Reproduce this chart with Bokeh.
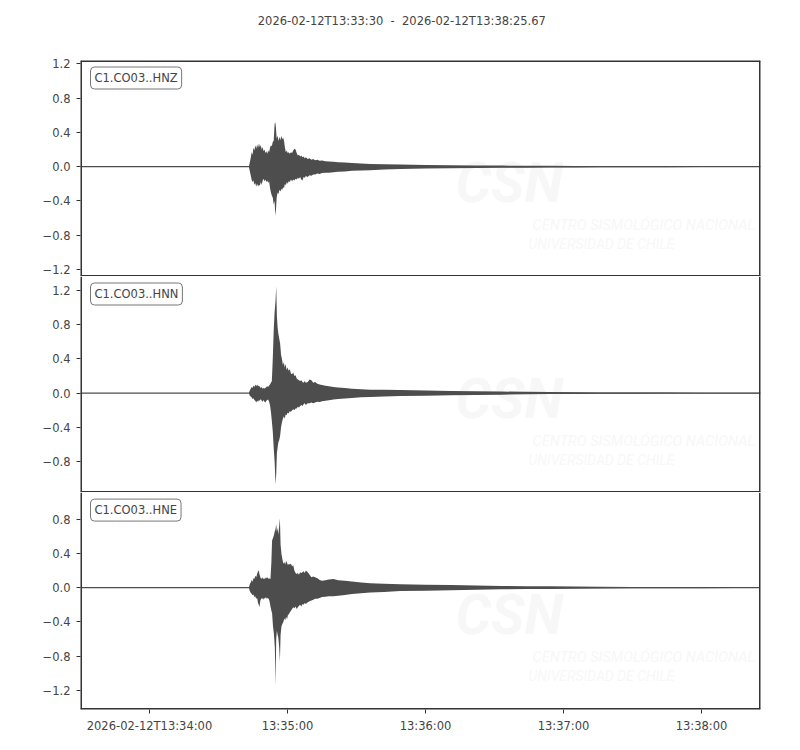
#Three-component seismogram (CSN station CO03)

from bokeh.plotting import figure
from bokeh.models import Range1d, FixedTicker, Label, Span
from bokeh.layouts import column
from bokeh.core.properties import value
from bokeh.embed import file_html
from bokeh.resources import INLINE

##### DATA #####
START_LABEL = "2026-02-12T13:33:30"
END_LABEL = "2026-02-12T13:38:25.67"
DURATION = 295.67  #seconds after start

CHANNELS = ["C1.CO03..HNZ", "C1.CO03..HNN", "C1.CO03..HNE"]

#envelope of each trace: time (s after start), upper and lower amplitude
HNZ_T = [0.0, 73.2, 73.6, 74.0, 74.4, 74.8, 75.2, 75.6, 76.0, 76.4, 76.8, 77.2, 77.6, 78.0, 78.4,
         78.8, 79.2, 79.6, 80.0, 80.4, 80.8, 81.2, 81.6, 82.0, 82.4, 82.8, 83.2, 83.6, 84.0,
         84.4, 84.7, 85.0, 85.3, 85.7, 86.1, 86.5, 86.9, 87.3, 87.7, 88.1, 88.5, 88.9, 89.3,
         89.7, 90.1, 90.5, 91.0, 91.5, 92.0, 92.5, 93.0, 93.5, 94.0, 94.5, 95.0, 95.5, 96.0,
         96.5, 97.0, 97.5, 98.0, 98.8, 99.6, 100.4, 101.2, 102.0, 103.0, 104.0, 105.0, 106.5,
         108.0, 110.0, 112.0, 115.0, 118.0, 122.0, 126.0, 132.0, 139.0, 150.0, 161.0, 172.0,
         183.0, 194.0, 204.0, 215.0, 226.0, 240.0, 255.0, 270.0, 285.0, 295.67]
HNZ_UP = [0.0, 0.0, 0.05, 0.10, 0.17, 0.14, 0.22, 0.19, 0.25, 0.21, 0.26, 0.22, 0.27, 0.23, 0.25,
          0.20, 0.23, 0.18, 0.20, 0.16, 0.18, 0.15, 0.19, 0.17, 0.22, 0.25, 0.24, 0.29, 0.30,
          0.50, 0.52, 0.45, 0.33, 0.36, 0.30, 0.35, 0.31, 0.36, 0.32, 0.34, 0.30, 0.22, 0.17,
          0.19, 0.16, 0.17, 0.15, 0.17, 0.16, 0.19, 0.21, 0.20, 0.16, 0.13, 0.14, 0.12, 0.13,
          0.11, 0.12, 0.10, 0.11, 0.09, 0.10, 0.08, 0.09, 0.075, 0.08, 0.07, 0.072, 0.065,
          0.062, 0.058, 0.052, 0.048, 0.044, 0.037, 0.032, 0.028, 0.025, 0.02, 0.018, 0.015,
          0.013, 0.011, 0.01, 0.008, 0.007, 0.006, 0.005, 0.004, 0.0035, 0.003]
HNZ_LO = [0.0, 0.0, -0.05, -0.10, -0.15, -0.18, -0.16, -0.21, -0.19, -0.23, -0.20, -0.23, -0.21, -0.22, -0.18,
          -0.21, -0.16, -0.14, -0.17, -0.15, -0.18, -0.16, -0.19, -0.17, -0.25, -0.30, -0.34, -0.36, -0.44,
          -0.40, -0.573, -0.50, -0.36, -0.30, -0.32, -0.27, -0.29, -0.26, -0.27, -0.24, -0.25, -0.20, -0.22,
          -0.18, -0.20, -0.17, -0.18, -0.15, -0.17, -0.15, -0.16, -0.14, -0.15, -0.13, -0.14, -0.12, -0.15,
          -0.16, -0.12, -0.13, -0.11, -0.12, -0.10, -0.105, -0.09, -0.09, -0.08, -0.085, -0.075, -0.07,
          -0.07, -0.065, -0.06, -0.055, -0.048, -0.043, -0.04, -0.032, -0.027, -0.022, -0.018, -0.015,
          -0.013, -0.011, -0.01, -0.008, -0.007, -0.006, -0.005, -0.004, -0.0035, -0.003]

HNN_T = [0.0, 73.2, 73.6, 74.0, 74.4, 74.8, 75.2, 75.6, 76.0, 76.4, 76.8, 77.2, 77.6, 78.0, 78.4,
         78.8, 79.2, 79.6, 80.0, 80.4, 80.8, 81.2, 81.6, 82.0, 82.4, 82.8, 83.2, 83.6, 84.0,
         84.4, 84.8, 85.1, 85.4, 85.7, 86.0, 86.4, 86.8, 87.2, 87.6, 88.0, 88.4, 88.8, 89.2,
         89.6, 90.0, 90.5, 91.0, 91.5, 92.0, 92.5, 93.0, 93.5, 94.0, 94.5, 95.0, 95.5, 96.0,
         96.5, 97.0, 97.5, 98.0, 98.8, 99.6, 100.4, 101.2, 102.0, 103.0, 104.0, 105.0, 106.5,
         108.0, 110.0, 112.0, 115.0, 118.0, 122.0, 126.0, 132.0, 139.0, 150.0, 161.0, 172.0,
         183.0, 194.0, 204.0, 215.0, 226.0, 240.0, 255.0, 270.0, 285.0, 295.67]
HNN_UP = [0.0, 0.0, 0.03, 0.05, 0.07, 0.06, 0.09, 0.07, 0.10, 0.08, 0.10, 0.08, 0.09, 0.07, 0.06,
          0.07, 0.05, 0.06, 0.055, 0.06, 0.07, 0.08, 0.07, 0.09, 0.10, 0.12, 0.14, 0.40, 0.73,
          0.95, 1.08, 1.25, 0.90, 0.77, 0.70, 0.64, 0.58, 0.45, 0.40, 0.33, 0.36, 0.30, 0.34,
          0.27, 0.30, 0.26, 0.28, 0.23, 0.22, 0.24, 0.20, 0.21, 0.17, 0.16, 0.15, 0.14, 0.15,
          0.13, 0.12, 0.14, 0.12, 0.13, 0.16, 0.15, 0.12, 0.13, 0.11, 0.10, 0.095, 0.085,
          0.08, 0.07, 0.066, 0.06, 0.052, 0.045, 0.04, 0.038, 0.035, 0.03, 0.025, 0.021,
          0.018, 0.015, 0.012, 0.01, 0.008, 0.007, 0.006, 0.005, 0.0045, 0.004]
HNN_LO = [0.0, 0.0, -0.03, -0.04, -0.05, -0.07, -0.06, -0.08, -0.09, -0.11, -0.09, -0.10, -0.08, -0.09, -0.07,
          -0.09, -0.10, -0.08, -0.10, -0.11, -0.09, -0.08, -0.075, -0.10, -0.14, -0.22, -0.33, -0.45, -0.64,
          -0.80, -1.07, -0.95, -0.70, -0.64, -0.58, -0.55, -0.50, -0.40, -0.34, -0.30, -0.27, -0.30, -0.25,
          -0.26, -0.23, -0.24, -0.21, -0.22, -0.20, -0.19, -0.20, -0.18, -0.18, -0.16, -0.17, -0.15, -0.14,
          -0.15, -0.13, -0.12, -0.14, -0.12, -0.12, -0.11, -0.12, -0.11, -0.10, -0.105, -0.095, -0.09,
          -0.085, -0.075, -0.07, -0.063, -0.057, -0.05, -0.045, -0.04, -0.035, -0.03, -0.025, -0.021,
          -0.018, -0.015, -0.012, -0.01, -0.008, -0.007, -0.006, -0.005, -0.0045, -0.004]

HNE_T = [0.0, 73.2, 73.6, 74.0, 74.4, 74.8, 75.2, 75.6, 76.0, 76.4, 76.8, 77.2, 77.5, 77.8, 78.2,
         78.6, 79.0, 79.4, 79.8, 80.2, 80.6, 81.0, 81.4, 81.8, 82.2, 82.6, 83.0, 83.3, 83.7,
         84.1, 84.5, 84.8, 85.1, 85.4, 85.7, 86.0, 86.4, 86.7, 87.0, 87.4, 87.8, 88.2, 88.6,
         89.0, 89.4, 89.8, 90.2, 90.6, 91.0, 91.5, 92.0, 92.5, 93.0, 93.5, 94.0, 94.5, 95.0,
         95.5, 96.0, 96.5, 97.0, 97.5, 98.0, 98.8, 99.6, 100.4, 101.2, 102.0, 103.0, 104.0,
         105.0, 106.5, 108.0, 110.0, 112.0, 115.0, 118.0, 122.0, 126.0, 132.0, 139.0, 150.0,
         161.0, 172.0, 183.0, 194.0, 204.0, 215.0, 226.0, 240.0, 255.0, 270.0, 285.0, 295.0]
HNE_UP = [0.0, 0.0, 0.04, 0.06, 0.09, 0.07, 0.11, 0.10, 0.14, 0.12, 0.16, 0.19, 0.20, 0.16, 0.12,
          0.10, 0.12, 0.10, 0.11, 0.10, 0.12, 0.11, 0.12, 0.10, 0.11, 0.10, 0.30, 0.55, 0.58,
          0.61, 0.66, 0.68, 0.74, 0.65, 0.70, 0.62, 0.72, 0.81, 0.50, 0.39, 0.33, 0.28, 0.30,
          0.27, 0.31, 0.29, 0.26, 0.28, 0.27, 0.28, 0.25, 0.26, 0.20, 0.17, 0.16, 0.17, 0.15,
          0.18, 0.17, 0.18, 0.19, 0.17, 0.20, 0.18, 0.15, 0.12, 0.13, 0.12, 0.11, 0.09,
          0.08, 0.085, 0.095, 0.10, 0.085, 0.08, 0.072, 0.06, 0.05, 0.045, 0.04, 0.035,
          0.03, 0.025, 0.02, 0.017, 0.015, 0.012, 0.01, 0.008, 0.007, 0.006, 0.0055, 0.005]
HNE_LO = [0.0, 0.0, -0.04, -0.06, -0.07, -0.09, -0.08, -0.11, -0.10, -0.13, -0.12, -0.18, -0.20, -0.23, -0.15,
          -0.13, -0.12, -0.14, -0.12, -0.13, -0.11, -0.13, -0.12, -0.13, -0.16, -0.22, -0.27, -0.30, -0.45,
          -0.54, -0.70, -1.14, -0.60, -0.50, -0.55, -0.58, -0.70, -0.865, -0.55, -0.45, -0.42, -0.40, -0.36,
          -0.38, -0.34, -0.37, -0.32, -0.31, -0.29, -0.27, -0.25, -0.23, -0.24, -0.22, -0.25, -0.23, -0.21,
          -0.20, -0.22, -0.19, -0.20, -0.18, -0.19, -0.17, -0.16, -0.15, -0.14, -0.13, -0.13, -0.12,
          -0.11, -0.105, -0.10, -0.10, -0.095, -0.085, -0.074, -0.065, -0.058, -0.05, -0.04, -0.035,
          -0.03, -0.025, -0.02, -0.017, -0.015, -0.012, -0.01, -0.008, -0.007, -0.006, -0.0055, -0.005]

#axes
X_TICKS = [30, 90, 150, 210, 270]
X_TICK_LABELS = ["2026-02-12T13:34:00", "13:35:00", "13:36:00", "13:37:00", "13:38:00"]
HNZ_YTICKS = [-1.2, -0.8, -0.4, 0.0, 0.4, 0.8, 1.2]
HNN_YTICKS = [-0.8, -0.4, 0.0, 0.4, 0.8, 1.2]
HNE_YTICKS = [-1.2, -0.8, -0.4, 0.0, 0.4, 0.8]
HNZ_YLIM = (-1.282, 1.24)
HNN_YLIM = (-1.163, 1.364)
HNE_YLIM = (-1.422, 1.11)

#### STYLE ####
TRACE = "#4d4d4d"
INK = "#444444"
EDGE = "#333333"
FONT = "DejaVu Sans"
FSIZE = "11.5px"
WATERMARK = "#f7f7f7"

PAGE_W = 800
HEAD_H = 30
FRAME_W = 680
FRAME_H = 216
LEFT = 80

x_range = Range1d(0, DURATION)


def tick_text(v):
    return ("%.1f" % v).replace("-", "\u2212")


def edge(p, loc, dim):
    #spans are clipped at the frame, so a wide line leaves a crisp edge inside
    p.add_layout(Span(location=loc, dimension=dim, line_color=EDGE, line_width=3))


def make_panel(name, t, up, lo, yticks, ylim, top_border, bottom_border, height):
    p = figure(width=PAGE_W, height=height, x_range=x_range, y_range=Range1d(*ylim),
               output_backend="svg", toolbar_location=None,
               min_border_left=LEFT, min_border_right=PAGE_W - LEFT - FRAME_W,
               min_border_top=top_border, min_border_bottom=bottom_border)
    p.xgrid.visible = False
    p.ygrid.visible = False
    p.outline_line_color = None
    p.background_fill_color = "white"
    p.border_fill_color = "white"

    #y axis
    p.yaxis.ticker = FixedTicker(ticks=yticks)
    p.yaxis.major_label_overrides = {v: tick_text(v) for v in yticks}
    p.yaxis.axis_line_color = None
    p.yaxis.major_tick_line_color = EDGE
    p.yaxis.major_tick_in = 0
    p.yaxis.major_tick_out = 4
    p.yaxis.minor_tick_line_color = None
    p.yaxis.major_label_text_font = FONT
    p.yaxis.major_label_text_font_size = FSIZE
    p.yaxis.major_label_text_color = INK
    p.yaxis.major_label_standoff = 6

    #faint CSN watermark behind the trace
    span = ylim[1] - ylim[0]
    per_px_y = span / FRAME_H
    per_px_x = DURATION / FRAME_W
    p.text(x=[375 * per_px_x], y=[ylim[1] - 122 * per_px_y], text=["CSN"],
           text_font=value("Roboto"), text_font_style="bold italic", text_font_size="56px",
           text_color=WATERMARK, text_baseline="alphabetic")
    p.text(x=[452 * per_px_x, 448 * per_px_x],
           y=[ylim[1] - 164 * per_px_y, ylim[1] - 183 * per_px_y],
           text=["CENTRO SISMOLÓGICO NACIONAL", "UNIVERSIDAD DE CHILE"],
           text_font=value("Roboto"), text_font_style="italic", text_font_size=["14.6px", "14px"],
           text_color=WATERMARK, text_baseline="alphabetic")

    #trace: flat baseline plus envelope
    p.line(x=[t[0], t[-1]], y=[0, 0], line_color=TRACE, line_width=1.2)
    p.varea(x=t, y1=lo, y2=up, fill_color=TRACE, fill_alpha=1)

    #frame edges (shared edges drawn once)
    edge(p, 0, "height")
    edge(p, DURATION, "height")
    edge(p, ylim[0], "width")

    #channel label box
    lab = Label(x=10 * per_px_x, y=ylim[1] - 17.5 * per_px_y, text=name,
                text_font=FONT, text_font_size=FSIZE, text_color=INK,
                text_align="left", text_baseline="middle",
                background_fill_color="white", border_line_color="#777777",
                border_line_width=1, border_radius=4, padding=4)
    p.add_layout(lab)
    return p


#header with the time span
head = figure(width=PAGE_W, height=HEAD_H, x_range=Range1d(0, PAGE_W), y_range=Range1d(0, HEAD_H),
              output_backend="svg", toolbar_location=None, min_border=0)
head.axis.visible = False
head.xgrid.visible = False
head.ygrid.visible = False
head.outline_line_color = None
head.text(x=[PAGE_W / 2 - 22], y=[HEAD_H - 20], text=[START_LABEL + "\u00a0 - \u00a0" + END_LABEL],
          text_font=value(FONT), text_font_size=FSIZE, text_color=INK,
          text_align="center", text_baseline="middle")

top = make_panel(CHANNELS[0], HNZ_T, HNZ_UP, HNZ_LO, HNZ_YTICKS, HNZ_YLIM, 60 - HEAD_H, 0, 60 - HEAD_H + FRAME_H)
mid = make_panel(CHANNELS[1], HNN_T, HNN_UP, HNN_LO, HNN_YTICKS, HNN_YLIM, 0, 0, FRAME_H)
bot = make_panel(CHANNELS[2], HNE_T, HNE_UP, HNE_LO, HNE_YTICKS, HNE_YLIM, 0, 32, FRAME_H + 1 + 32)
edge(top, HNZ_YLIM[1], "width")

top.xaxis.visible = False
mid.xaxis.visible = False

bot.xaxis.ticker = FixedTicker(ticks=X_TICKS)
bot.xaxis.major_label_overrides = dict(zip(X_TICKS, X_TICK_LABELS))
bot.xaxis.axis_line_color = None
bot.xaxis.major_tick_line_color = EDGE
bot.xaxis.major_tick_in = 0
bot.xaxis.major_tick_out = 4
bot.xaxis.minor_tick_line_color = None
bot.xaxis.major_label_text_font = FONT
bot.xaxis.major_label_text_font_size = FSIZE
bot.xaxis.major_label_text_color = INK
bot.xaxis.major_label_standoff = 5

page = column(head, top, mid, bot)
open("out.html", "w").write(file_html(page, INLINE))
